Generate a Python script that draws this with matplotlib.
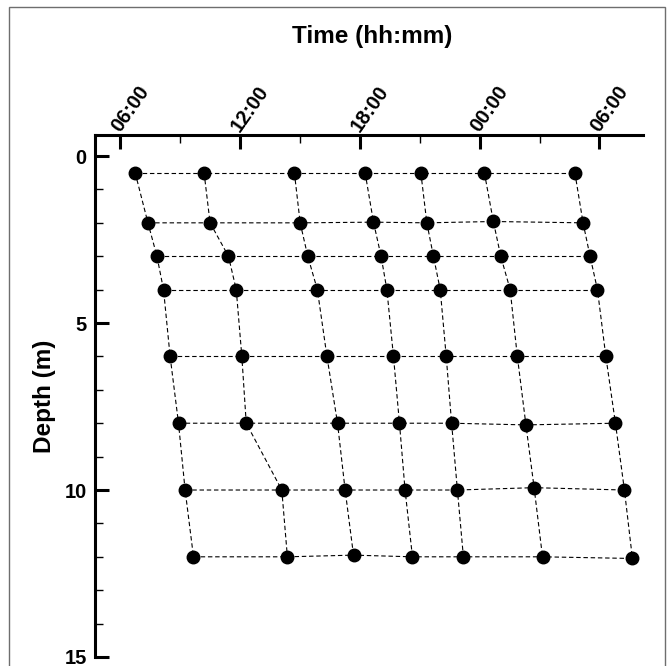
import matplotlib
matplotlib.use("Agg")
import matplotlib.pyplot as plt
from matplotlib.ticker import MultipleLocator, FuncFormatter
from matplotlib.patches import Rectangle

plt.rcParams['font.family'] = ['Liberation Sans', 'DejaVu Sans']
plt.rcParams['font.weight'] = 'bold'

# Time of each sample (hours since midnight of day 1), one list per cast (profile)
cast1_time = [6.76, 7.40, 7.85, 8.18, 8.51, 8.93, 9.26, 9.68]
cast2_time = [10.21, 10.51, 11.43, 11.82, 12.10, 12.32, 14.10, 14.38]
cast3_time = [14.73, 15.02, 15.40, 15.88, 16.36, 16.89, 17.27, 17.69]
cast4_time = [18.27, 18.69, 19.07, 19.36, 19.69, 19.99, 20.27, 20.64]
cast5_time = [21.06, 21.36, 21.69, 22.03, 22.33, 22.60, 22.89, 23.19]
cast6_time = [24.24, 24.69, 25.06, 25.53, 25.89, 26.32, 26.73, 27.15]
cast7_time = [28.77, 29.18, 29.53, 29.90, 30.32, 30.80, 31.25, 31.65]

# Depth (m) of each sample, one list per cast
cast1_depth = [0.5, 2.0, 3.0, 4.0, 6.0, 8.0, 10.0, 12.0]
cast2_depth = [0.5, 2.0, 3.0, 4.0, 6.0, 8.0, 10.0, 12.0]
cast3_depth = [0.5, 2.0, 3.0, 4.0, 6.0, 8.0, 10.0, 11.95]
cast4_depth = [0.5, 1.98, 3.0, 4.0, 6.0, 8.0, 10.0, 12.0]
cast5_depth = [0.5, 2.0, 3.0, 4.0, 6.0, 8.0, 10.0, 12.0]
cast6_depth = [0.5, 1.96, 3.0, 4.0, 6.0, 8.05, 9.93, 12.0]
cast7_depth = [0.5, 2.0, 3.0, 4.0, 6.0, 8.0, 10.0, 12.05]

times = [cast1_time, cast2_time, cast3_time, cast4_time, cast5_time, cast6_time, cast7_time]
depths = [cast1_depth, cast2_depth, cast3_depth, cast4_depth, cast5_depth, cast6_depth, cast7_depth]

x_major_ticks = [6, 12, 18, 24, 30]
y_major_ticks = [0, 5, 10, 15]

W, H = 667, 666
fig = plt.figure(figsize=(W / 100, H / 100), dpi=100)
fig.patches.append(Rectangle((9 / W, -0.05), (665 - 9) / W, 1.05 - 7 / H,
                             transform=fig.transFigure, fill=False,
                             edgecolor='#6e6e6e', linewidth=1.0))

ax = fig.add_axes([95 / W, 1 - 657 / H, (643 - 95) / W, (657 - 135) / H])

dash = (0, (4, 2.5))
n_levels = len(cast1_depth)
# vertical profile lines
for t, d in zip(times, depths):
    ax.plot(t, d, color='black', lw=0.8, linestyle=dash, zorder=2)
# horizontal lines connecting same depth level across casts
for k in range(n_levels):
    ax.plot([t[k] for t in times], [d[k] for d in depths], color='black', lw=0.8,
            linestyle=dash, zorder=2)
for t, d in zip(times, depths):
    ax.plot(t, d, linestyle='none', marker='o', ms=9, color='black', zorder=3)

ax.set_xlim(4.75, 32.18)
ax.set_ylim(15, -0.63)

ax.xaxis.tick_top()
ax.xaxis.set_label_position('top')
ax.set_xticks(x_major_ticks)
ax.xaxis.set_minor_locator(MultipleLocator(3))
ax.xaxis.set_major_formatter(FuncFormatter(lambda v, p: "%02d:00" % (int(round(v)) % 24)))
ax.set_yticks(y_major_ticks)
ax.yaxis.set_minor_locator(MultipleLocator(1))

for s in ['right', 'bottom']:
    ax.spines[s].set_visible(False)
for s in ['left', 'top']:
    ax.spines[s].set_linewidth(2.2)

ax.tick_params(which='major', direction='in', length=10, width=2.2, labelsize=14.5)
ax.tick_params(which='minor', direction='in', length=6, width=1.0)
ax.tick_params(axis='x', which='major', pad=1.5)
ax.tick_params(axis='y', which='major', pad=6)

for lab in ax.get_xticklabels():
    lab.set_rotation(55)
    lab.set_ha('left')
    lab.set_va('baseline')
    lab.set_rotation_mode('anchor')
    lab.set_fontweight('bold')
for lab in ax.get_yticklabels():
    lab.set_fontweight('bold')

ax.set_xlabel('Time (hh:mm)', fontsize=17.5, fontweight='bold', va='center')
ax.xaxis.set_label_coords(0.5 + 3 / 548, (657 - 36.5) / 522)
ax.set_ylabel('Depth (m)', fontsize=17.5, fontweight='bold', va='center')
ax.yaxis.set_label_coords((45 - 95) / 548, 0.5)

fig.savefig('out.png', dpi=100)
